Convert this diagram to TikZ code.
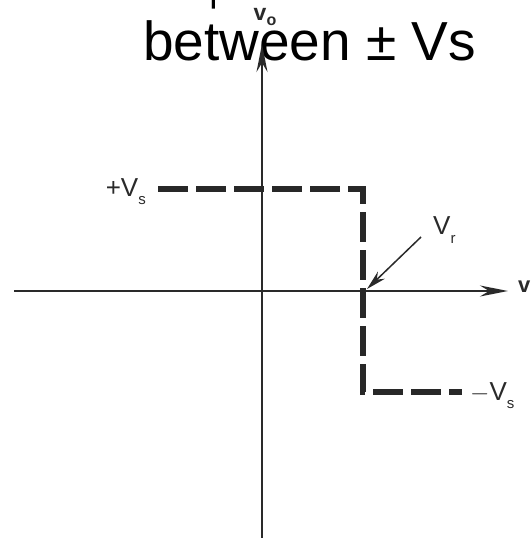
\documentclass[tikz,border=0pt]{standalone}
\usepackage{fontspec}
\setmainfont{Liberation Sans}
\usetikzlibrary{arrows.meta}
\definecolor{ink}{HTML}{2A2A2A}
\tikzset{
  axis/.style={draw=ink, line width=2pt, -{Stealth[length=28pt,width=11pt]}},
  levelline/.style={draw=ink!95!black, line width=6.5pt, dash pattern=on 30pt off 8pt},
  lbl/.style={text=ink, font=\fontsize{26}{28}\selectfont, inner sep=0pt},
  pointer/.style={draw=ink, line width=1.5pt, -{Stealth[length=20pt,width=10pt]}}
}
\begin{document}
\begin{tikzpicture}[x=1pt,y=-1pt]
\useasboundingbox (0,0) rectangle (531,538);
% partially visible line above
\begin{scope}
\clip (0,0) rectangle (531,538);
\node[anchor=base west, inner sep=0pt, font=\fontsize{56}{60}\selectfont] (topline) at (208,-2) {p};
\fill[white] (215,-1) rectangle (240,12);
\end{scope}
\node[anchor=base west, inner sep=0pt, font=\fontsize{55}{60}\selectfont] (title) at (143,60) {between ± Vs};
% axes
\coordinate (ybot) at (262,538);
\coordinate (ytop) at (262,44);
\coordinate (xleft) at (14,291);
\coordinate (xright) at (508,291);
\draw[axis] (ybot) -- (ytop);
\draw[axis] (xleft) -- (xright);
\node[lbl, anchor=west, font=\fontsize{22}{24}\selectfont\bfseries] (vi) at (518,287) {v};
\node[lbl, anchor=base, font=\fontsize{23}{24}\selectfont\bfseries] (vo) at (265,20) {v\raisebox{-0.45ex}{\fontsize{16}{16}\selectfont o}};
% transfer characteristic
\coordinate (a) at (158,189);
\coordinate (b) at (363,189);
\coordinate (c) at (363,392);
\coordinate (d) at (462,392);
\draw[levelline] (a) -- (b) -- (c) -- (d);
\node[lbl, anchor=east] (pvs) at (146,192) {+V\raisebox{-0.6ex}{\fontsize{15}{15}\selectfont s}};
\node[lbl, anchor=west] (mvs) at (470,396) {$-$V\raisebox{-0.6ex}{\fontsize{15}{15}\selectfont s}};
\node[lbl, anchor=west] (vr) at (433,230) {V\raisebox{-0.6ex}{\fontsize{15}{15}\selectfont r}};
\coordinate (vrs) at (421,237);
\coordinate (vrtip) at (367,289);
\draw[pointer] (vrs) -- (vrtip);
\end{tikzpicture}
\end{document}
